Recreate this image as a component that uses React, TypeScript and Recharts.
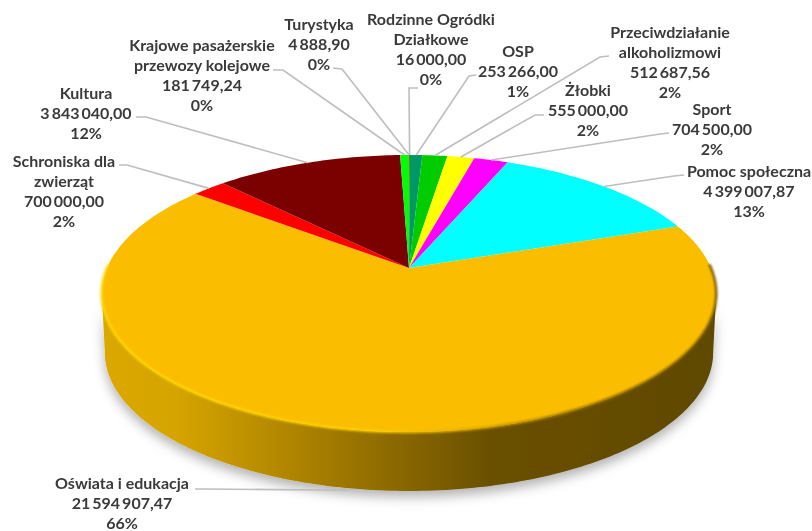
import { PieChart, Pie, Cell } from "recharts";

// values, clockwise from 12 o'clock
const NAMES = [
  ["Turystyka"],
  ["Rodzinne Ogródki", "Działkowe"],
  ["OSP"],
  ["Przeciwdziałanie", "alkoholizmowi"],
  ["Żłobki"],
  ["Sport"],
  ["Pomoc społeczna"],
  ["Oświata i edukacja"],
  ["Schroniska dla", "zwierząt"],
  ["Kultura"],
  ["Krajowe pasażerskie", "przewozy kolejowe"],
];
const VALUES = [4888.9, 16000, 253266, 512687.56, 555000, 704500, 4399007.87, 21594907.47, 700000, 3843040, 181749.24];
const PERCENTS = ["0%", "0%", "1%", "2%", "2%", "2%", "13%", "66%", "2%", "12%", "0%"];
const COLORS = ["#0070C0", "#993300", "#009966", "#00CC00", "#FFFF00", "#FF00FF", "#00FFFF", "#FBBD00", "#FF0000", "#7B0000", "#00FF00"];

const rows = VALUES.map((value, i) => ({ name: NAMES[i].join(" "), value }));

// label layout: centre x, first line y, leader start / elbow
const LABEL_X = [319, 431, 518, 670, 588, 712, 749, 122, 64, 86, 202];
const LABEL_Y = [24, 19, 51, 32, 90, 109, 171, 483, 161, 93, 45];
const LEAD_START = [[333, 68], [418, 88], [476, 75], [609, 56], [544, 115], [669, 133], [684, 175], [195, 489], [119, 165], [136, 117], [273, 70]];
const LEAD_ELBOW = [[342, 69], [409, 88], [469, 76], [600, 57], [535, 115], [660, 134], [674, 176], [205, 489], [127, 165], [146, 117], [283, 70]];

const APEX_X = 409;
const APEX_Y = 268;
const DEPTH = 59;
const TEXT = "#3A3A3A";
const LINE = "#BEBEBE";

// perspective: the pie angle (clockwise from top) on to the tilted disc
function project(theta: number) {
  const r = (theta * Math.PI) / 180;
  const u = Math.sin(r);
  const v = Math.cos(r);
  const d = 0.184 * v + 1;
  return { x: APEX_X + (302 * u) / d, y: (-84.5 * v + APEX_Y) / d };
}

function lower(theta: number) {
  const p = project(theta);
  return { x: 410 + (p.x - 410) * 0.99, y: p.y + DEPTH };
}

function arcPoints(from: number, to: number, fn = project) {
  const pts = [];
  const n = Math.max(2, Math.ceil(to - from));
  for (let i = 0; i <= n; i++) pts.push(fn(from + ((to - from) * i) / n));
  return pts;
}

const toPath = (pts: { x: number; y: number }[]) => pts.map((p, i) => `${i ? "L" : "M"}${p.x.toFixed(2)},${p.y.toFixed(2)}`).join(" ");

function Slice(props: any) {
  const { startAngle, endAngle, fill } = props;
  const t1 = 90 - startAngle;
  const t2 = 90 - endAngle;
  const wallA = Math.max(t1, 100.4);
  const wallB = Math.min(t2, 259.6);
  const hasWall = wallA < wallB;
  const top = `M${APEX_X},${APEX_Y} ${toPath(arcPoints(t1, t2)).replace("M", "L")} Z`;
  return (
    <g>
      {hasWall && (
        <path
          d={`${toPath(arcPoints(wallA, wallB))} ${toPath(arcPoints(wallA, wallB, lower).reverse()).replace("M", "L")} Z`}
          fill="url(#wallGrad)"
          filter="url(#wallShadow)"
        />
      )}
      <path d={top} fill={fill} />
      {hasWall && (
        <path d={toPath(arcPoints(wallA - 12, wallB + 12))} fill="none" stroke="url(#rimGrad)" strokeWidth={2.5} filter="url(#soft)" />
      )}
    </g>
  );
}

const money = (v: number) =>
  v.toFixed(2).replace(".", ",").replace(/\B(?=(\d{3})+(?!\d))/g, "\u2009");

function SliceLabel(props: any) {
  const { index, midAngle } = props;
  const theta = 90 - midAngle;
  const end = project(theta);
  const front = theta > 100.4 && theta < 259.6;
  const endY = front ? end.y + DEPTH + 2 : end.y;
  const lines = [...NAMES[index], money(VALUES[index]), PERCENTS[index]];
  const [sx, sy] = LEAD_START[index];
  const [ex, ey] = LEAD_ELBOW[index];
  return (
    <g>
      <polyline points={`${sx},${sy} ${ex},${ey} ${end.x},${endY}`} fill="none" stroke={LINE} strokeWidth={1.6} />
      <text textAnchor="middle" fontFamily="Lato, sans-serif" fontWeight={700} fontSize={16} fill={TEXT}>
        {lines.map((l, i) => (
          <tspan key={i} x={LABEL_X[index]} y={LABEL_Y[index] + 5.5 + i * 20.2}>{l}</tspan>
        ))}
      </text>
    </g>
  );
}

export default function App() {
  return (
    <div style={{ position: "absolute", left: 0, top: 0, width: 812, height: 531, background: "#fff", filter: "blur(0.6px)" }}>
      <PieChart width={812} height={531} margin={{ top: 0, right: 0, bottom: 0, left: 0 }}>
        <defs>
          <linearGradient id="wallGrad" gradientUnits="userSpaceOnUse" x1="104" y1="0" x2="716" y2="0">
            <stop offset="0" stopColor="#DBA800" />
            <stop offset="0.12" stopColor="#D6A400" />
            <stop offset="0.34" stopColor="#A87F00" />
            <stop offset="0.63" stopColor="#6A5000" />
            <stop offset="1" stopColor="#604800" />
          </linearGradient>
          <linearGradient id="rimGrad" gradientUnits="userSpaceOnUse" x1="104" y1="0" x2="716" y2="0">
            <stop offset="0" stopColor="#FFD800" />
            <stop offset="0.45" stopColor="#FFD000" />
            <stop offset="0.58" stopColor="#E0AA00" />
            <stop offset="0.8" stopColor="#8A6A00" />
            <stop offset="1" stopColor="#7A5C00" />
          </linearGradient>
          <filter id="wallShadow" x="-10%" y="-10%" width="120%" height="130%">
            <feDropShadow dx="0" dy="6" stdDeviation="6" floodColor="#000" floodOpacity="0.3" />
          </filter>
          <filter id="soft" x="-5%" y="-5%" width="110%" height="110%">
            <feGaussianBlur stdDeviation="1" />
          </filter>
        </defs>
        <Pie
          data={rows}
          dataKey="value"
          nameKey="name"
          cx={APEX_X}
          cy={APEX_Y}
          outerRadius={300}
          startAngle={90}
          endAngle={-270}
          stroke="none"
          shape={Slice}
          label={SliceLabel}
          labelLine={false}
          isAnimationActive={false}
        >
          {rows.map((r, i) => <Cell key={r.name} fill={COLORS[i]} />)}
        </Pie>
      </PieChart>
    </div>
  );
}
